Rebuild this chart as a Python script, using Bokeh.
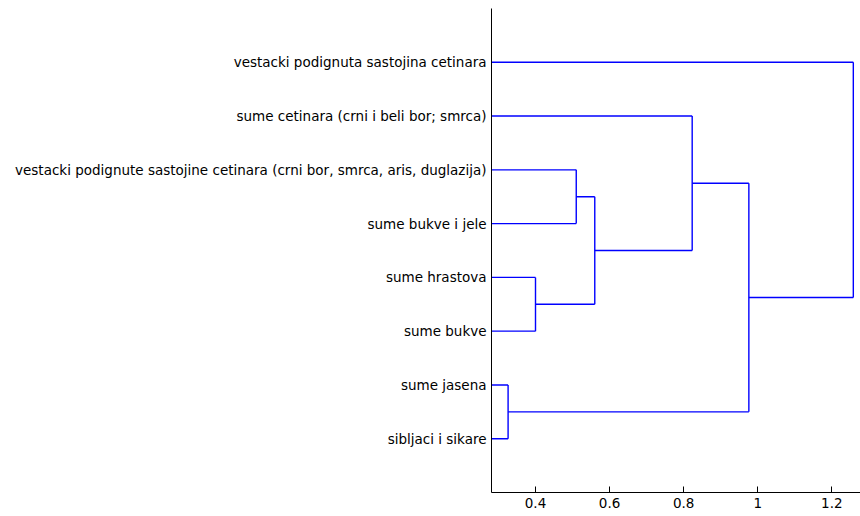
from bokeh.plotting import figure
from bokeh.models import Range1d, FixedTicker, CustomJSTickFormatter
from bokeh.embed import file_html
from bokeh.resources import INLINE

# Leaf labels, bottom (y=1) to top (y=8)
leaf_labels = [
    "sibljaci i sikare",
    "sume jasena",
    "sume bukve",
    "sume hrastova",
    "sume bukve i jele",
    "vestacki podignute sastojine cetinara (crni bor, smrca, aris, duglazija)",
    "sume cetinara (crni i beli bor; smrca)",
    "vestacki podignuta sastojina cetinara",
]

# Linkage: node ids 0..7 are leaves, new clusters get ids 8, 9, ...
merge_left = [0, 2, 4, 9, 6, 8, 7]
merge_right = [1, 3, 5, 10, 11, 12, 13]
merge_height = [0.326, 0.400, 0.510, 0.560, 0.823, 0.976, 1.258]

x_ticks = [0.4, 0.6, 0.8, 1, 1.2]

n = len(leaf_labels)
node_x = [0.0] * n
node_y = [float(i + 1) for i in range(n)]

x0, y0, x1, y1 = [], [], [], []
for a, b, h in zip(merge_left, merge_right, merge_height):
    # horizontal from each child to merge height
    for c in (a, b):
        x0.append(node_x[c]); y0.append(node_y[c]); x1.append(h); y1.append(node_y[c])
    # vertical connector
    x0.append(h); y0.append(node_y[a]); x1.append(h); y1.append(node_y[b])
    node_x.append(h)
    node_y.append((node_y[a] + node_y[b]) / 2.0)

p = figure(width=860, height=516, output_backend="svg", toolbar_location=None,
           x_range=Range1d(0.2812, 1.2774), y_range=Range1d(0, n + 1),
           min_border_left=491, min_border_right=0, min_border_top=8,
           min_border_bottom=24)
p.outline_line_color = None
p.xgrid.visible = False
p.ygrid.visible = False
p.background_fill_color = "white"
p.border_fill_color = "white"

p.segment(x0=x0, y0=y0, x1=x1, y1=y1, line_color="#0000ff", line_width=1.4)

font = "DejaVu Sans"
xa = p.xaxis[0]
xa.ticker = FixedTicker(ticks=x_ticks)
xa.formatter = CustomJSTickFormatter(code="return String(Math.round(tick*10)/10);")
xa.major_tick_in = 6
xa.major_tick_out = 0
xa.minor_tick_line_color = None
xa.major_label_standoff = 5
xa.major_label_text_font = font
xa.major_label_text_font_size = "13.5px"
xa.major_label_text_color = "black"
xa.axis_line_color = "black"
xa.major_tick_line_color = "black"

ya = p.yaxis[0]
ya.ticker = FixedTicker(ticks=list(range(1, n + 1)))
ya.formatter = CustomJSTickFormatter(args=dict(labels=leaf_labels),
                                     code="return labels[Math.round(tick) - 1];")
ya.major_tick_in = 0
ya.major_tick_out = 0
ya.minor_tick_line_color = None
ya.major_label_standoff = 5
ya.major_label_text_font = font
ya.major_label_text_font_size = "13.5px"
ya.major_label_text_color = "black"
ya.axis_line_color = "black"

open("out.html", "w").write(file_html(p, INLINE))
